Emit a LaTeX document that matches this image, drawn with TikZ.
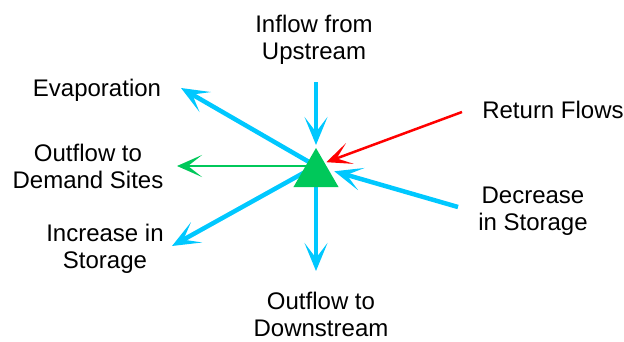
\documentclass[tikz,border=0pt]{standalone}
\usepackage{fontspec}
\setmainfont{Liberation Sans}
\usetikzlibrary{arrows.meta,shapes.geometric,backgrounds}
\definecolor{flowcyan}{RGB}{0,200,255}
\definecolor{flowgreen}{RGB}{0,200,90}
\definecolor{flowred}{RGB}{255,0,0}
\begin{document}
\begin{tikzpicture}[x=1pt,y=-1pt,inner sep=0pt,outer sep=0pt,
label/.style={align=center,font=\fontsize{24}{27}\selectfont},
flow/.style={line width=4.5pt,flowcyan,-{Stealth[length=28pt,width=23pt,inset=15pt]}},
demand/.style={line width=2.5pt,flowgreen,-{Stealth[length=25pt,width=22pt,inset=14pt]}},
retflow/.style={line width=2.5pt,flowred,-{Stealth[length=25pt,width=22pt,inset=14pt]}}]
\useasboundingbox (0,0) rectangle (624,341);
\draw (316,174) node[regular polygon,regular polygon sides=3,minimum size=52pt,fill=flowgreen] (res) {};
\coordinate (hub) at (316,166);
% labels
\draw (314,40) node[label] (up) {Inflow from\\Upstream};
\draw (97,90) node[label] (evap) {Evaporation};
\draw (553,110) node[label] (ret) {Return Flows};
\draw (88,166) node[label] (dem) {Outflow to\\Demand Sites};
\draw (533,211) node[label] (dec) {Decrease\\in Storage};
\draw (105,249) node[label] (inc) {Increase in\\Storage};
\draw (321,314) node[label] (down) {Outflow to\\Downstream};
% free ends of the arrows
\coordinate (upend) at (316,82);
\coordinate (retend) at (462,112);
\coordinate (decend) at (458,207);
\coordinate (evapend) at (181,88);
\coordinate (demend) at (177,166);
\coordinate (incend) at (172,246);
\coordinate (downend) at (316,271);
\begin{scope}[on background layer]
\draw[flow,shorten >=21pt] (upend) -- (hub);
\draw[retflow,shorten >=11pt] (retend) -- (hub);
\draw[flow,shorten >=19pt] (decend) -- (hub);
\draw[flow] (hub) -- (evapend);
\draw[demand] (hub) -- (demend);
\draw[flow] (hub) -- (incend);
\draw[flow] (hub) -- (downend);
\end{scope}
\end{tikzpicture}
\end{document}
